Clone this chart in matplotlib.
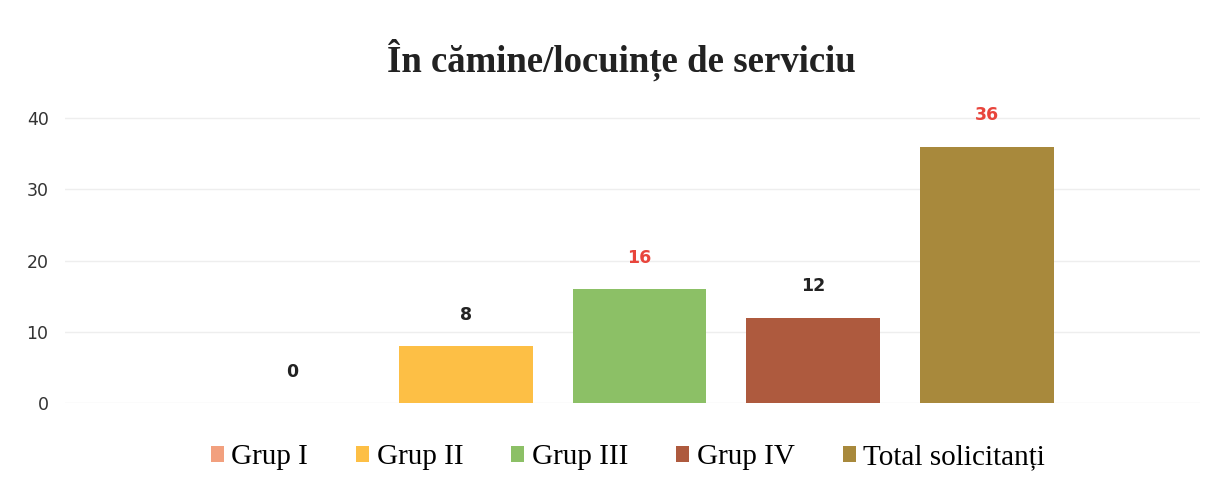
import matplotlib.pyplot as plt

categories = ['Grup I', 'Grup II', 'Grup III', 'Grup IV', 'Total solicitanți']
values = [0, 8, 16, 12, 36]
colors = ['#f2a07e', '#fdbf45', '#8cc066', '#ae5a3e', '#a8893c']
label_colors = ['#222222', '#222222', '#e8453c', '#222222', '#e8453c']
yticks = [0, 10, 20, 30, 40]

fig = plt.figure(figsize=(12.31, 4.97), dpi=100)
ax = fig.add_axes([0.053, 0.189, 0.922, 0.602])

x = list(range(len(categories)))
bars = ax.bar(x, values, width=0.77, color=colors, label=categories)

for xi, v, c in zip(x, values, label_colors):
    ax.annotate(str(v), (xi, v), xytext=(0, 16), textcoords='offset points',
                ha='center', va='bottom', fontsize=12.5, fontweight='bold', color=c)

ax.set_xlim(-1.31, 5.23)
ax.set_ylim(0, 42)
ax.set_yticks(yticks)
ax.set_xticks([])
ax.tick_params(axis='y', length=0, labelsize=12.5, labelcolor='#333333', pad=12)
ax.grid(axis='y', color='#eeeeee', linewidth=1)
ax.set_axisbelow(True)
for s in ax.spines.values():
    s.set_visible(False)

fig.text(0.505, 0.88, 'În cămine/locuințe de serviciu', ha='center', va='center',
         fontsize=26.5, fontweight='bold', family='Liberation Serif', color='#222222')

fig.legend(bars, categories, loc='center', bbox_to_anchor=(0.51, 0.08), ncol=5,
           frameon=False, handlelength=0.45, handleheight=0.45, handletextpad=0.25,
           columnspacing=1.65, prop={'family': 'Liberation Serif', 'size': 21})

fig.savefig('out.png', dpi=100)
